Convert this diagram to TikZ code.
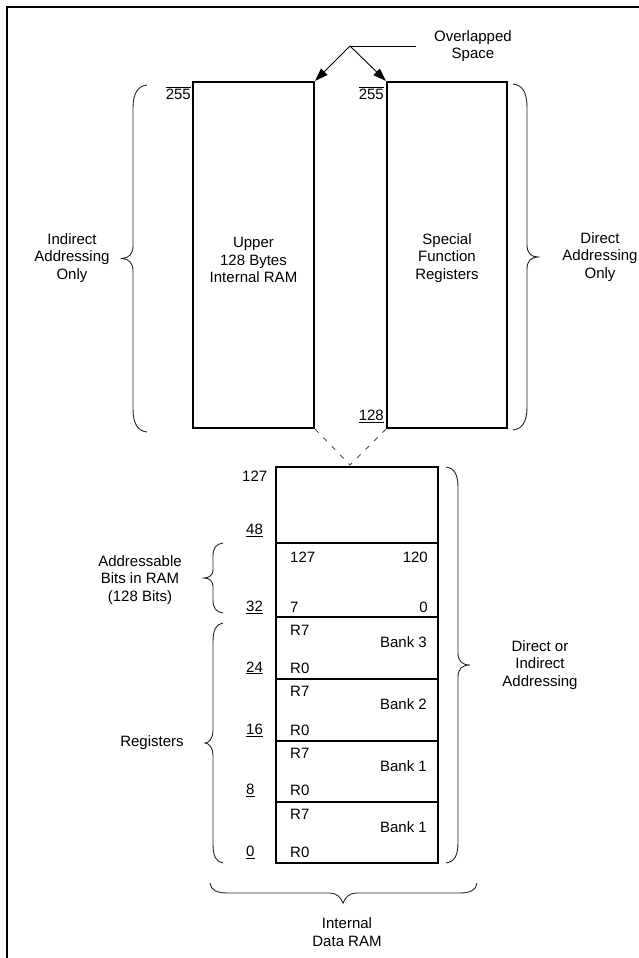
\documentclass[tikz,border=0pt]{standalone}
\usepackage{fontspec}
\setmainfont{Liberation Sans}
\usetikzlibrary{arrows.meta}
\newcommand\ovl[1]{$\overline{\hbox{#1}}$}
\begin{document}
\begin{tikzpicture}[x=1pt,y=-1pt,
  lbl/.style={font=\fontsize{15}{17.5}\selectfont, inner sep=0pt, align=center},
  membox/.style={draw, line width=2.2pt, inner sep=0pt},
  brc/.style={line width=0.9pt, draw=black!85},
  thin/.style={line width=0.9pt},
  tip/.style={-{Triangle[length=13pt,width=9pt]}}
]
\useasboundingbox (0,0) rectangle (639,958);
% frame
\draw[line width=2.6pt] (7,958) -- (7,7) -- (639,7);

% upper boxes
\node[membox, minimum width=121pt, minimum height=346pt] (ul) at (253.5,255) {};
\node[membox, minimum width=120pt, minimum height=346pt] (ur) at (447,255) {};
\node[lbl] (ultxt) at (253.5,260) {Upper\\128 Bytes\\Internal RAM};
\node[lbl] (urtxt) at (447,258) {Special\\Function\\Registers};

% lower box sections
\node[membox, minimum width=162pt, minimum height=76pt] (lt) at (357,505) {};
\node[membox, minimum width=162pt, minimum height=74pt] (lb) at (357,580) {};
\node[membox, minimum width=162pt, minimum height=62pt] (b3) at (357,648) {};
\node[membox, minimum width=162pt, minimum height=62pt] (b2) at (357,710) {};
\node[membox, minimum width=162pt, minimum height=61pt] (b1a) at (357,771.5) {};
\node[membox, minimum width=162pt, minimum height=61pt] (b1b) at (357,832.5) {};

% overlapped space arrows
\coordinate (apex) at (350,46);
\coordinate (lend) at (416,46);
\node[lbl] (ovl) at (473,46) {Overlapped\\Space};
\draw[thin] (lend) -- (apex);
\draw[thin, tip] (apex) -- (ul.north east);
\draw[thin, tip] (apex) -- (ur.north west);

% dashed V
\coordinate (vmeet) at (350,465);
\draw[line width=0.8pt, black!70, dash pattern=on 5pt off 7pt] (ul.south east) -- (vmeet) -- (ur.south west);

% address labels upper
\node[lbl, anchor=east] (l255a) at (191,93) {\ovl{255}};
\node[lbl, anchor=east] (l255b) at (384,93) {\ovl{255}};
\node[lbl, anchor=east] (l128) at (384,416) {\underline{128}};

% left column numbers
\node[lbl, anchor=west] (n127) at (242,476) {127};
\node[lbl, anchor=west] (n48) at (246,530) {\underline{48}};
\node[lbl, anchor=west] (n32) at (246,607) {\underline{32}};
\node[lbl, anchor=west] (n24) at (246,668) {\underline{24}};
\node[lbl, anchor=west] (n16) at (246,730) {\underline{16}};
\node[lbl, anchor=west] (n8) at (246,790) {\underline{8}};
\node[lbl, anchor=west] (n0) at (246,852) {\underline{0}};

% inside lower box
\node[lbl, anchor=west] (i127) at (290,557) {127};
\node[lbl, anchor=east] (i120) at (428,557) {120};
\node[lbl, anchor=west] (i7) at (290,607) {7};
\node[lbl, anchor=east] (i0) at (428,607) {0};

\node[lbl, anchor=west] (r7c) at (290,630) {R7};
\node[lbl, anchor=east] (bk3) at (427,642) {Bank 3};
\node[lbl, anchor=west] (r0c) at (290,668) {R0};

\node[lbl, anchor=west] (r7b) at (290,691) {R7};
\node[lbl, anchor=east] (bk2) at (427,704) {Bank 2};
\node[lbl, anchor=west] (r0b) at (290,730) {R0};

\node[lbl, anchor=west] (r7a) at (290,753) {R7};
\node[lbl, anchor=east] (bk1a) at (427,766) {Bank 1};
\node[lbl, anchor=west] (r0a) at (290,790) {R0};

\node[lbl, anchor=west] (r7z) at (290,814) {R7};
\node[lbl, anchor=east] (bk1b) at (427,827) {Bank 1};
\node[lbl, anchor=west] (r0z) at (290,852) {R0};

% braces
\draw[brc] (147,85) .. controls (138,86) and (133,93) .. (133,108) -- (133,246)
  .. controls (133,254) and (129,258) .. (122,258.5)
  .. controls (129,259) and (133,263) .. (133,271) -- (133,409)
  .. controls (133,424) and (138,431) .. (147,432);
\draw[brc] (513,84) .. controls (522,85) and (527,92) .. (527,107) -- (527,245)
  .. controls (527,253) and (531,257) .. (538,257)
  .. controls (531,257) and (527,261) .. (527,269) -- (527,407)
  .. controls (527,422) and (522,429) .. (513,430);
\draw[brc] (446,467) .. controls (454,468) and (458,474) .. (458,487) -- (458,653)
  .. controls (458,661) and (462,665) .. (470,665)
  .. controls (462,665) and (458,669) .. (458,677) -- (458,843)
  .. controls (458,856) and (454,862) .. (446,863);
\draw[brc] (223,543) .. controls (216,544) and (213,548) .. (213,556) -- (213,570)
  .. controls (213,575) and (209,578) .. (204,578)
  .. controls (209,578) and (213,581) .. (213,586) -- (213,600)
  .. controls (213,608) and (216,612) .. (223,613);
\draw[brc] (223,623) .. controls (216,624) and (213,630) .. (213,642) -- (213,731)
  .. controls (213,738) and (209,743) .. (205,743)
  .. controls (209,743) and (213,748) .. (213,755) -- (213,844)
  .. controls (213,856) and (216,862) .. (223,863);
\draw[brc] (210,883) .. controls (211,890) and (216,893) .. (228,893) -- (330,893)
  .. controls (337,893) and (341,898) .. (343,903)
  .. controls (345,898) and (349,893) .. (356,893) -- (459,893)
  .. controls (471,893) and (476,890) .. (477,883);

% side labels
\node[lbl] (indir) at (72,258) {Indirect\\Addressing\\Only};
\node[lbl] (dir) at (600,257) {Direct\\Addressing\\Only};
\node[lbl] (bits) at (140,580) {Addressable\\Bits in RAM\\(128 Bits)};
\node[lbl] (regs) at (152,743) {Registers};
\node[lbl] (dori) at (540,665) {Direct or\\Indirect\\Addressing};
\node[lbl] (idr) at (347,932) {Internal\\Data RAM};
\end{tikzpicture}
\end{document}
